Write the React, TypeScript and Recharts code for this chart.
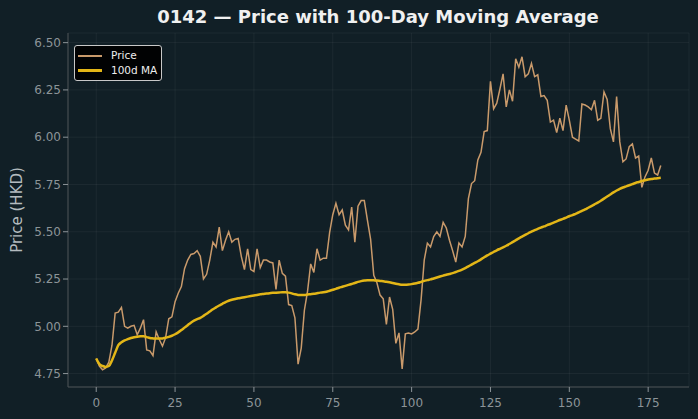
import React from "react";
import { LineChart, Line, XAxis, YAxis, CartesianGrid } from "recharts";

// Daily closing price (HKD), trading-day index 0..179
const price: number[] = [
  4.83, 4.79, 4.77, 4.78, 4.81, 4.90, 5.07, 5.075, 5.10, 5.00,
  4.99, 5.00, 5.005, 4.955, 4.99, 5.035, 4.875, 4.87, 4.845, 4.97,
  4.93, 4.895, 4.94, 5.04, 5.05, 5.13, 5.175, 5.21, 5.305, 5.35,
  5.38, 5.385, 5.40, 5.37, 5.25, 5.275, 5.35, 5.445, 5.42, 5.525,
  5.40, 5.455, 5.50, 5.445, 5.46, 5.465, 5.37, 5.30, 5.41, 5.30,
  5.29, 5.41, 5.31, 5.35, 5.35, 5.34, 5.335, 5.195, 5.35, 5.28,
  5.265, 5.115, 5.11, 5.045, 4.80, 4.885, 5.085, 5.185, 5.33, 5.285,
  5.41, 5.35, 5.36, 5.36, 5.495, 5.59, 5.65, 5.59, 5.615, 5.535,
  5.51, 5.63, 5.445, 5.635, 5.665, 5.665, 5.56, 5.46, 5.27, 5.23,
  5.165, 5.145, 5.01, 5.155, 5.09, 4.91, 4.965, 4.775, 4.96, 4.965,
  4.96, 4.97, 4.985, 5.14, 5.35, 5.44, 5.42, 5.475, 5.50, 5.475,
  5.55, 5.52, 5.455, 5.40, 5.34, 5.44, 5.42, 5.475, 5.675, 5.755,
  5.77, 5.88, 5.92, 6.03, 6.035, 6.295, 6.15, 6.18, 6.255, 6.335,
  6.16, 6.25, 6.19, 6.415, 6.37, 6.425, 6.32, 6.335, 6.39, 6.32,
  6.33, 6.215, 6.22, 6.195, 6.08, 6.09, 6.025, 6.10, 6.035, 6.17,
  6.09, 6.00, 5.99, 5.98, 6.175, 6.17, 6.16, 6.145, 6.195, 6.09,
  6.10, 6.24, 6.20, 6.045, 5.975, 6.215, 5.975, 5.87, 5.885, 5.95,
  5.965, 5.89, 5.90, 5.735, 5.79, 5.825, 5.89, 5.81, 5.80, 5.85,
];

// 100-day moving average of the close
const ma100: number[] = [
  4.83, 4.80, 4.79, 4.785, 4.79, 4.82, 4.86, 4.90, 4.915, 4.925,
  4.932, 4.938, 4.942, 4.945, 4.947, 4.948, 4.943, 4.938, 4.936, 4.935,
  4.935, 4.936, 4.939, 4.944, 4.950, 4.958, 4.968, 4.980, 4.993, 5.006,
  5.019, 5.030, 5.038, 5.045, 5.055, 5.066, 5.078, 5.090, 5.100, 5.110,
  5.119, 5.128, 5.135, 5.140, 5.144, 5.148, 5.151, 5.154, 5.157, 5.160,
  5.163, 5.166, 5.169, 5.171, 5.173, 5.175, 5.177, 5.178, 5.179, 5.180,
  5.180, 5.178, 5.174, 5.169, 5.166, 5.165, 5.166, 5.168, 5.170, 5.172,
  5.175, 5.178, 5.180, 5.183, 5.188, 5.193, 5.198, 5.204, 5.209, 5.214,
  5.219, 5.224, 5.229, 5.235, 5.239, 5.242, 5.244, 5.244, 5.243, 5.242,
  5.240, 5.238, 5.236, 5.233, 5.229, 5.225, 5.222, 5.220, 5.220, 5.221,
  5.223, 5.226, 5.230, 5.235, 5.240, 5.244, 5.248, 5.253, 5.258, 5.263,
  5.268, 5.273, 5.277, 5.281, 5.287, 5.293, 5.300, 5.308, 5.317, 5.326,
  5.335, 5.344, 5.354, 5.365, 5.375, 5.384, 5.393, 5.402, 5.410, 5.418,
  5.426, 5.435, 5.445, 5.455, 5.465, 5.474, 5.483, 5.492, 5.500, 5.508,
  5.515, 5.522, 5.528, 5.535, 5.541, 5.548, 5.555, 5.562, 5.568, 5.575,
  5.582, 5.588, 5.595, 5.602, 5.610, 5.618, 5.627, 5.636, 5.645, 5.654,
  5.664, 5.675, 5.686, 5.697, 5.708, 5.718, 5.727, 5.734, 5.740, 5.746,
  5.752, 5.758, 5.763, 5.768, 5.772, 5.776, 5.779, 5.781, 5.783, 5.785,
];

const xTicks: number[] = [0, 25, 50, 75, 100, 125, 150, 175];
const yTicks: number[] = [4.75, 5.0, 5.25, 5.5, 5.75, 6.0, 6.25, 6.5];

const title = "0142 \u2014 Price with 100-Day Moving Average";
const yLabel = "Price (HKD)";

const BG = "#111f26";
const PRICE_COLOR = "#c99a6b";
const MA_COLOR = "#e3b617";
const TICK_COLOR = "#8c9498";
const SPINE_COLOR = "#4b5154";
const FONT = "'DejaVu Sans', sans-serif";

const rows = price.map((p, i) => ({ day: i, price: p, ma: ma100[i] }));

const legendItems = [
  { name: "Price", color: PRICE_COLOR, width: 2 },
  { name: "100d MA", color: MA_COLOR, width: 3 },
];

function LegendBox() {
  return (
    <div
      style={{
        position: "absolute",
        left: 74,
        top: 45,
        background: "rgba(0,0,0,0.92)",
        border: "1px solid #c8c8c8",
        borderRadius: 3,
        padding: "2px 4px 2px 3px",
        fontFamily: FONT,
        fontSize: 10.5,
        color: "#eeeeee",
        lineHeight: "15px",
      }}
    >
      {legendItems.map((it) => (
        <div key={it.name} style={{ display: "flex", alignItems: "center" }}>
          <span
            style={{
              display: "inline-block",
              width: 24,
              height: it.width,
              background: it.color,
              marginRight: 9,
            }}
          />
          <span>{it.name}</span>
        </div>
      ))}
    </div>
  );
}

export default function App() {
  return (
    <div
      style={{
        position: "fixed",
        left: 0,
        top: 0,
        width: 698,
        height: 419,
        background: BG,
        overflow: "hidden",
      }}
    >
      <div
        style={{
          position: "absolute",
          top: 6,
          left: 378 - 300,
          width: 600,
          textAlign: "center",
          fontFamily: FONT,
          fontWeight: "bold",
          fontSize: 18,
          color: "#f0f0f0",
        }}
      >
        {title}
      </div>
      <LineChart
        width={698}
        height={419}
        data={rows}
        margin={{ top: 33, right: 9, bottom: 0, left: 0 }}
      >
        <CartesianGrid stroke="#ffffff" strokeOpacity={0.05} strokeWidth={1} />
        <XAxis
          dataKey="day"
          type="number"
          domain={[-8.95, 187.95]}
          ticks={xTicks}
          allowDataOverflow
          height={32}
          stroke={SPINE_COLOR}
          tickSize={5}
          tickMargin={6}
          tick={{ fill: TICK_COLOR, fontSize: 12, fontFamily: FONT }}
          tickLine={{ stroke: "#8c9498" }}
        />
        <YAxis
          type="number"
          domain={[4.679, 6.551]}
          ticks={yTicks}
          allowDataOverflow
          width={68}
          stroke={SPINE_COLOR}
          tickSize={5}
          tickFormatter={(v: number) => v.toFixed(2)}
          tick={{ fill: TICK_COLOR, fontSize: 12, fontFamily: FONT }}
          tickLine={{ stroke: "#8c9498" }}
          label={{
            value: yLabel,
            angle: -90,
            position: "insideLeft",
            offset: 17,
            style: { fill: "#b4bbbf", fontSize: 15, fontFamily: FONT, textAnchor: "middle" },
          }}
        />
        <Line
          type="linear"
          dataKey="price"
          name="Price"
          stroke={PRICE_COLOR}
          strokeWidth={1.5}
          dot={false}
          isAnimationActive={false}
        />
        <Line
          type="monotone"
          dataKey="ma"
          name="100d MA"
          stroke={MA_COLOR}
          strokeWidth={2.5}
          dot={false}
          isAnimationActive={false}
        />
      </LineChart>
      <LegendBox />
    </div>
  );
}
